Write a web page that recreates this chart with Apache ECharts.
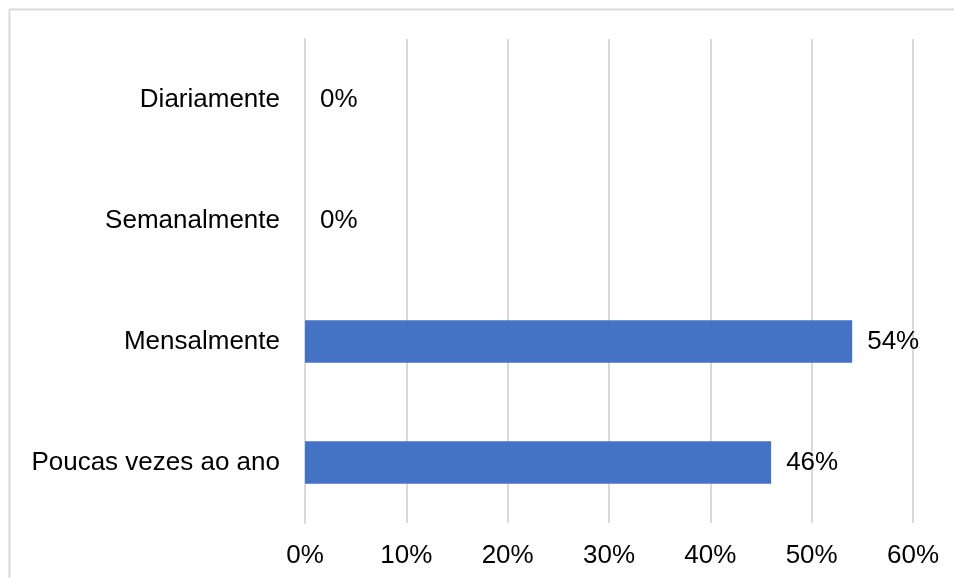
<!DOCTYPE html>
<html>
<head>
<meta charset="utf-8">
<script src="https://cdn.jsdelivr.net/npm/echarts@6/dist/echarts.min.js"></script>
<style>
  html, body { margin: 0; padding: 0; background: #fff; }
  #chart { width: 954px; height: 578px; }
</style>
</head>
<body>
<div id="chart"></div>
<script>
// frequencia de uso (top to bottom)
var categories = ["Diariamente", "Semanalmente", "Mensalmente", "Poucas vezes ao ano"];
var percentValues = [0, 0, 54, 46];
var axisTicks = [0, 10, 20, 30, 40, 50, 60];

var chart = echarts.init(document.getElementById("chart"));

var font = "Liberation Sans, Arial, sans-serif";

var option = {
  animation: false,
  backgroundColor: "#fff",
  graphic: [
    {
      type: "rect",
      shape: { x: 9.5, y: 9.5, width: 1000, height: 1000 },
      style: { fill: "none", stroke: "#d9d9d9", lineWidth: 2 },
      silent: true
    }
  ],
  grid: {
    left: 305,
    right: 41,
    top: 39,
    bottom: 55
  },
  xAxis: {
    type: "value",
    min: axisTicks[0],
    max: axisTicks[axisTicks.length - 1],
    interval: 10,
    axisLine: { show: false },
    axisTick: { show: false },
    splitLine: { lineStyle: { color: "#d9d9d9", width: 2 } },
    axisLabel: {
      formatter: "{value}%",
      color: "#000",
      fontSize: 26,
      fontFamily: font,
      margin: 20
    }
  },
  yAxis: {
    type: "category",
    inverse: true,
    data: categories,
    axisLine: { show: true, lineStyle: { color: "#d9d9d9", width: 2 } },
    axisTick: { show: false },
    axisLabel: {
      color: "#000",
      fontSize: 26,
      fontFamily: font,
      margin: 25
    }
  },
  series: [
    {
      type: "bar",
      data: percentValues,
      barWidth: "35%",
      itemStyle: { color: "#4472c4" },
      label: {
        show: true,
        position: "right",
        distance: 15,
        formatter: "{c}%",
        color: "#000",
        fontSize: 26,
        fontFamily: font
      }
    }
  ]
};

chart.setOption(option);
</script>
</body>
</html>
